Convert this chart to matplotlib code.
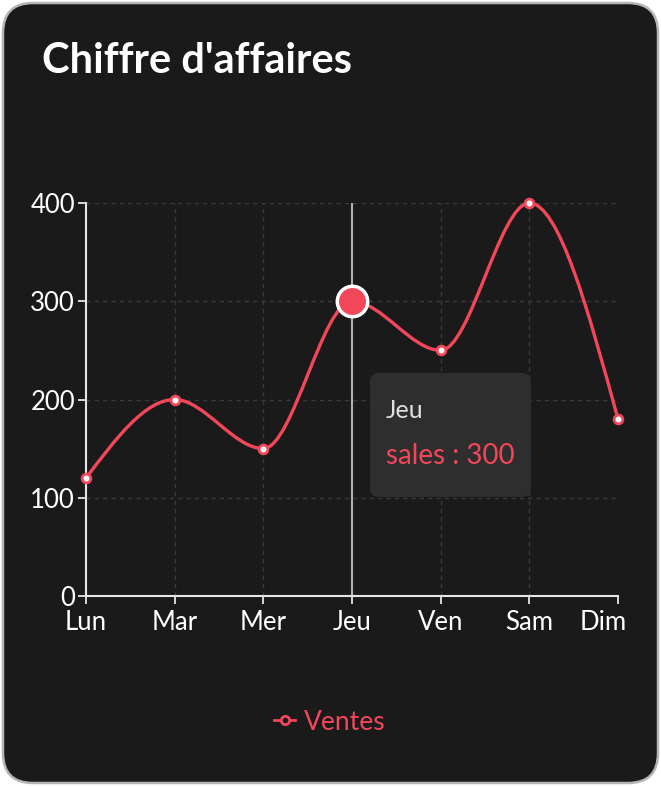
import numpy as np
import matplotlib
matplotlib.use('Agg')
import matplotlib.pyplot as plt
import matplotlib.transforms as mtrans
from matplotlib.patches import FancyBboxPatch, PathPatch
from matplotlib.path import Path
from matplotlib.lines import Line2D

plt.rcParams['font.family'] = ['Lato', 'DejaVu Sans']

days = ['Lun', 'Mar', 'Mer', 'Jeu', 'Ven', 'Sam', 'Dim']
sales = [120, 200, 150, 300, 250, 400, 180]
y_ticks = [0, 100, 200, 300, 400]
active_day = 'Jeu'

RED = '#f2475a'
BG = '#1a1a1a'
AXIS = '#e6e6e6'
GRID = '#3a3a3a'

W, H = 661, 786
fig = plt.figure(figsize=(W / 100, H / 100), dpi=100)
fig.patch.set_facecolor('white')

# background axes in pixel coords
bg = fig.add_axes([0, 0, 1, 1])
bg.set_xlim(0, W)
bg.set_ylim(H, 0)
bg.axis('off')
card = FancyBboxPatch((3, 3), W - 6, H - 6, boxstyle='round,pad=0,rounding_size=30',
                      fc=BG, ec='#b5b5b5', lw=1.8)
bg.add_patch(card)
bg.text(42, 61, "Chiffre d'affaires", color='white', fontsize=30, fontweight='bold',
        va='center', ha='left')

# plot area
x0, x1, ytop, ybot = 86, 618, 203, 596
ax = fig.add_axes([x0 / W, (H - ybot) / H, (x1 - x0) / W, (ybot - ytop) / H])
ax.set_facecolor('none')
xs = np.arange(len(days))
ax.set_xlim(0, len(days) - 1)
ax.set_ylim(0, 400)
for s in ['top', 'right']:
    ax.spines[s].set_visible(False)
for s in ['left', 'bottom']:
    ax.spines[s].set_color(AXIS)
    ax.spines[s].set_linewidth(1.5)
ax.set_xticks(xs)
ax.set_xticklabels(days)
ax.set_yticks(y_ticks)
ax.tick_params(colors=AXIS, labelcolor='white', labelsize=18.5, length=6, width=1.3)
ax.tick_params(axis='y', pad=2)
ax.tick_params(axis='x', pad=4)
ax.grid(True, color=GRID, linestyle=(0, (3, 3)), linewidth=1)
ax.set_axisbelow(True)

# last label pulled inside, like the reference
last = ax.get_xticklabels()[-1]
last.set_transform(last.get_transform() + mtrans.ScaledTranslation(-0.15, 0, fig.dpi_scale_trans))


# monotone cubic (d3 curveMonotoneX)
def monotone_path(x, y):
    x = np.asarray(x, float)
    y = np.asarray(y, float)
    n = len(x)
    h = np.diff(x)
    s = np.diff(y) / h
    t = np.zeros(n)
    for i in range(1, n - 1):
        p = (s[i - 1] * h[i] + s[i] * h[i - 1]) / (h[i - 1] + h[i])
        t[i] = (np.sign(s[i - 1]) + np.sign(s[i])) * min(abs(s[i - 1]), abs(s[i]), 0.5 * abs(p))
    t[0] = (3 * s[0] - t[1]) / 2
    t[-1] = (3 * s[-1] - t[-2]) / 2
    verts = [(x[0], y[0])]
    codes = [Path.MOVETO]
    for i in range(n - 1):
        dx = (x[i + 1] - x[i]) / 3
        verts += [(x[i] + dx, y[i] + dx * t[i]), (x[i + 1] - dx, y[i + 1] - dx * t[i + 1]),
                  (x[i + 1], y[i + 1])]
        codes += [Path.CURVE4] * 3
    return Path(verts, codes)


ai = days.index(active_day)
ax.axvline(xs[ai], color='#b0b0b0', lw=1.5, zorder=2)

ax.add_patch(PathPatch(monotone_path(xs, sales), fc='none', ec=RED, lw=2.4,
                       zorder=3, clip_on=False))
others = [i for i in xs if i != ai]
ax.scatter([xs[i] for i in others], [sales[i] for i in others], s=40, fc='white',
           ec=RED, lw=2, zorder=4, clip_on=False)
ax.scatter([xs[ai]], [sales[ai]], s=480, fc=RED, ec='white', lw=2.5, zorder=5,
           clip_on=False)

# tooltip
tip = FancyBboxPatch((370, 373), 161, 124, boxstyle='round,pad=0,rounding_size=9',
                     fc='#2e2e2e', ec='none', zorder=6)
bg2 = fig.add_axes([0, 0, 1, 1], facecolor='none')
bg2.set_xlim(0, W)
bg2.set_ylim(H, 0)
bg2.axis('off')
bg2.add_patch(tip)
bg2.text(386, 410, active_day, color='#e0e0e0', fontsize=18, va='center', ha='left', zorder=7)
bg2.text(386, 456, f'sales : {sales[ai]}', color=RED, fontsize=20, va='center',
         ha='left', zorder=7)

# legend
handle = Line2D([], [], color=RED, lw=2, marker='o', markersize=6,
                markerfacecolor=BG, markeredgecolor=RED, markeredgewidth=2)
leg = fig.legend([handle], ['Ventes'], loc='center', bbox_to_anchor=(330 / W, 1 - 722 / H),
                 frameon=False, fontsize=19, handlelength=0.8, handletextpad=0.35)
for txt in leg.get_texts():
    txt.set_color(RED)

fig.savefig('out.png', dpi=100, facecolor='white')
